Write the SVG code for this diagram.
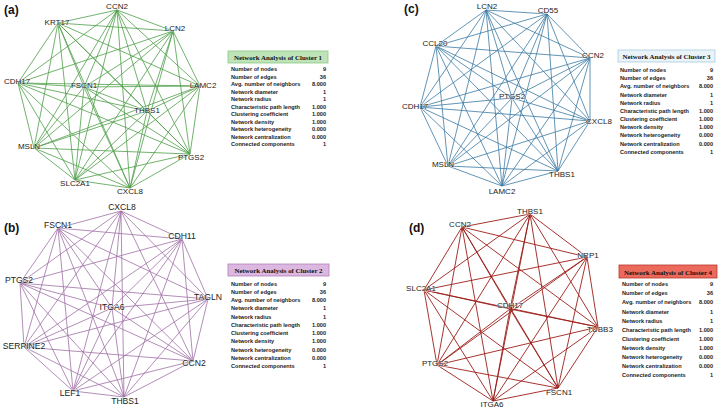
<svg xmlns="http://www.w3.org/2000/svg" width="719" height="409" viewBox="0 0 719 409">
<style>
.bg{fill:#ffffff}
.ea{fill:none;stroke:#4e9e48;stroke-width:0.8}
.eb{fill:none;stroke:#a070a6;stroke-width:0.8}
.ec{fill:none;stroke:#3b7aa3;stroke-width:0.8}
.ed{fill:none;stroke:#9c1d19;stroke-width:0.9}
.nl{font-family:"Liberation Sans",Arial,sans-serif;font-size:8px;fill:#222;text-anchor:middle;stroke:#ffffff;stroke-width:1;stroke-opacity:0.7;paint-order:stroke}
.nlb{font-family:"Liberation Sans",Arial,sans-serif;font-size:8.6px;fill:#222;text-anchor:middle;stroke:#ffffff;stroke-width:1;stroke-opacity:0.7;paint-order:stroke}
.pl{font-family:"Liberation Sans",Arial,sans-serif;font-size:12px;font-weight:bold;fill:#111}
.th{font-family:"Liberation Serif","Times New Roman",serif;font-size:7px;font-weight:bold;fill:#111;text-anchor:middle}
.tr{font-family:"Liberation Sans",Arial,sans-serif;font-size:5.6px;font-weight:bold;fill:#222}
.tv{font-family:"Liberation Sans",Arial,sans-serif;font-size:5.6px;font-weight:bold;fill:#222;text-anchor:end}
.h1{fill:#bfe3b8;stroke:#8cc784;stroke-width:0.8}
.h2{fill:#dcb8e0;stroke:#b07fb8;stroke-width:0.8}
.h3{fill:#eaf3f8;stroke:#a9cbe0;stroke-width:0.8}
.h4{fill:#ec6a5c;stroke:#b8372e;stroke-width:0.8}
</style>
<rect class="bg" x="0" y="0" width="719" height="409"/>

<g id="connectors">
<g id="edges-a">
<path class="ea" d="M117 10L58 23M117 10L173 31M117 10L18 83M117 10L84 87M117 10L200 86M117 10L147 111M117 10L34 148M117 10L190 154M117 10L75 180M117 10L130 188
M58 23L173 31M58 23L18 83M58 23L84 87M58 23L200 86M58 23L147 111M58 23L34 148M58 23L190 154M58 23L75 180M58 23L130 188
M173 31L18 83M173 31L84 87M173 31L200 86M173 31L147 111M173 31L34 148M173 31L190 154M173 31L75 180M173 31L130 188
M18 83L84 87M18 83L200 86M18 83L147 111M18 83L34 148M18 83L190 154M18 83L75 180M18 83L130 188
M84 87L200 86M84 87L147 111M84 87L34 148M84 87L190 154M84 87L75 180M84 87L130 188
M200 86L147 111M200 86L34 148M200 86L190 154M200 86L75 180M200 86L130 188
M147 111L34 148M147 111L190 154M147 111L75 180M147 111L130 188
M34 148L190 154M34 148L75 180M34 148L130 188
M190 154L75 180M190 154L130 188
M75 180L130 188"/>
</g>
<g id="edges-b">
<path class="eb" d="M121 211L58 228M121 211L182 239M121 211L20 283M121 211L208 299M121 211L112 308M121 211L24 347M121 211L193 361M121 211L73 391M121 211L124 397
M58 228L182 239M58 228L20 283M58 228L208 299M58 228L112 308M58 228L24 347M58 228L193 361M58 228L73 391M58 228L124 397
M182 239L20 283M182 239L208 299M182 239L112 308M182 239L24 347M182 239L193 361M182 239L73 391M182 239L124 397
M20 283L208 299M20 283L112 308M20 283L24 347M20 283L193 361M20 283L73 391M20 283L124 397
M208 299L112 308M208 299L24 347M208 299L193 361M208 299L73 391M208 299L124 397
M112 308L24 347M112 308L193 361M112 308L73 391M112 308L124 397
M24 347L193 361M24 347L73 391M24 347L124 397
M193 361L73 391M193 361L124 397
M73 391L124 397"/>
</g>
<g id="edges-c">
<path class="ec" d="M486 10L547 14M486 10L436 46M486 10L590 58M486 10L512 98M486 10L420 107M486 10L590 121M486 10L448 166M486 10L558 171M486 10L502 186
M547 14L436 46M547 14L590 58M547 14L512 98M547 14L420 107M547 14L590 121M547 14L448 166M547 14L558 171M547 14L502 186
M436 46L590 58M436 46L512 98M436 46L420 107M436 46L590 121M436 46L448 166M436 46L558 171M436 46L502 186
M590 58L512 98M590 58L420 107M590 58L590 121M590 58L448 166M590 58L558 171M590 58L502 186
M512 98L420 107M512 98L590 121M512 98L448 166M512 98L558 171M512 98L502 186
M420 107L590 121M420 107L448 166M420 107L558 171M420 107L502 186
M590 121L448 166M590 121L558 171M590 121L502 186
M448 166L558 171M448 166L502 186
M558 171L502 186"/>
</g>
<g id="edges-d">
<path class="ed" d="M530 214L462 227M530 214L587 257M530 214L424 290M530 214L510 309M530 214L598 327M530 214L437 365M530 214L558 388M530 214L493 401
M462 227L587 257M462 227L424 290M462 227L510 309M462 227L598 327M462 227L437 365M462 227L558 388M462 227L493 401
M587 257L424 290M587 257L510 309M587 257L598 327M587 257L437 365M587 257L558 388M587 257L493 401
M424 290L510 309M424 290L598 327M424 290L437 365M424 290L558 388M424 290L493 401
M510 309L598 327M510 309L437 365M510 309L558 388M510 309L493 401
M598 327L437 365M598 327L558 388M598 327L493 401
M437 365L558 388M437 365L493 401
M558 388L493 401"/>
</g>
</g>

<g id="panel-labels">
<text class="pl" x="4" y="14">(a)</text>
<text class="pl" x="4" y="232">(b)</text>
<text class="pl" x="404" y="13">(c)</text>
<text class="pl" x="409" y="232">(d)</text>
</g>

<g id="nodes-a">
<g id="a-CCN2"><text class="nl" x="117" y="9">CCN2</text></g>
<g id="a-KRT17"><text class="nl" x="57" y="25">KRT17</text></g>
<g id="a-LCN2"><text class="nl" x="175" y="31">LCN2</text></g>
<g id="a-CDH17"><text class="nl" x="17" y="84">CDH17</text></g>
<g id="a-FSCN1"><text class="nl" x="84" y="88">FSCN1</text></g>
<g id="a-LAMC2"><text class="nl" x="203" y="88">LAMC2</text></g>
<g id="a-THBS1"><text class="nl" x="147" y="113">THBS1</text></g>
<g id="a-MSLN"><text class="nl" x="29" y="149">MSLN</text></g>
<g id="a-PTGS2"><text class="nl" x="191" y="160">PTGS2</text></g>
<g id="a-SLC2A1"><text class="nl" x="75" y="186">SLC2A1</text></g>
<g id="a-CXCL8"><text class="nl" x="130" y="194">CXCL8</text></g>
</g>

<g id="nodes-b">
<g id="b-CXCL8"><text class="nlb" x="122" y="210">CXCL8</text></g>
<g id="b-FSCN1"><text class="nlb" x="58" y="228">FSCN1</text></g>
<g id="b-CDH11"><text class="nlb" x="182" y="239">CDH11</text></g>
<g id="b-PTGS2"><text class="nlb" x="19" y="283">PTGS2</text></g>
<g id="b-TAGLN"><text class="nlb" x="208" y="300">TAGLN</text></g>
<g id="b-ITGA6"><text class="nlb" x="112" y="310">ITGA6</text></g>
<g id="b-SERPINE2"><text class="nlb" x="24" y="349">SERPINE2</text></g>
<g id="b-CCN2"><text class="nlb" x="194" y="366">CCN2</text></g>
<g id="b-LEF1"><text class="nlb" x="70" y="396">LEF1</text></g>
<g id="b-THBS1"><text class="nlb" x="125" y="404">THBS1</text></g>
</g>

<g id="nodes-c">
<g id="c-LCN2"><text class="nl" x="487" y="9">LCN2</text></g>
<g id="c-CD55"><text class="nl" x="548" y="13">CD55</text></g>
<g id="c-CCL20"><text class="nl" x="435" y="46">CCL20</text></g>
<g id="c-CCN2"><text class="nl" x="593" y="58">CCN2</text></g>
<g id="c-PTGS2"><text class="nl" x="512" y="99">PTGS2</text></g>
<g id="c-CDH17"><text class="nl" x="415" y="109">CDH17</text></g>
<g id="c-CXCL8"><text class="nl" x="599" y="124">CXCL8</text></g>
<g id="c-MSLN"><text class="nl" x="443" y="167">MSLN</text></g>
<g id="c-THBS1"><text class="nl" x="562" y="177">THBS1</text></g>
<g id="c-LAMC2"><text class="nl" x="502" y="194">LAMC2</text></g>
</g>

<g id="nodes-d">
<g id="d-THBS1"><text class="nl" x="530" y="214">THBS1</text></g>
<g id="d-CCN2"><text class="nl" x="460" y="227">CCN2</text></g>
<g id="d-NRP1"><text class="nl" x="588" y="258">NRP1</text></g>
<g id="d-SLC2A1"><text class="nl" x="421" y="291">SLC2A1</text></g>
<g id="d-CDH17"><text class="nl" x="510" y="308">CDH17</text></g>
<g id="d-TUBB3"><text class="nl" x="600" y="332">TUBB3</text></g>
<g id="d-PTGS2"><text class="nl" x="435" y="366">PTGS2</text></g>
<g id="d-FSCN1"><text class="nl" x="559" y="395">FSCN1</text></g>
<g id="d-ITGA6"><text class="nl" x="492" y="407">ITGA6</text></g>
</g>

<g id="table-1">
<rect class="h1" x="228" y="51" width="100" height="12"/>
<text class="th" x="278" y="60" textLength="88" lengthAdjust="spacingAndGlyphs">Network Analysis of Cluster 1</text>
<text class="tr" x="231" y="71.3">Number of nodes</text><text class="tv" x="326" y="71.3">9</text>
<text class="tr" x="231" y="78.8">Number of edges</text><text class="tv" x="326" y="78.8">36</text>
<text class="tr" x="231" y="86.2">Avg. number of neighbors</text><text class="tv" x="326" y="86.2">8.000</text>
<text class="tr" x="231" y="93.7">Network diameter</text><text class="tv" x="326" y="93.7">1</text>
<text class="tr" x="231" y="101.2">Network radius</text><text class="tv" x="326" y="101.2">1</text>
<text class="tr" x="231" y="108.7">Characteristic path length</text><text class="tv" x="326" y="108.7">1.000</text>
<text class="tr" x="231" y="116.1">Clustering coefficient</text><text class="tv" x="326" y="116.1">1.000</text>
<text class="tr" x="231" y="123.6">Network density</text><text class="tv" x="326" y="123.6">1.000</text>
<text class="tr" x="231" y="131.1">Network heterogeneity</text><text class="tv" x="326" y="131.1">0.000</text>
<text class="tr" x="231" y="138.5">Network centralization</text><text class="tv" x="326" y="138.5">0.000</text>
<text class="tr" x="231" y="146">Connected components</text><text class="tv" x="326" y="146">1</text>
</g>

<g id="table-2">
<rect class="h2" x="228" y="264" width="101" height="12"/>
<text class="th" x="278.5" y="273" textLength="88" lengthAdjust="spacingAndGlyphs">Network Analysis of Cluster 2</text>
<text class="tr" x="231" y="285.7">Number of nodes</text><text class="tv" x="326" y="285.7">9</text>
<text class="tr" x="231" y="293.9">Number of edges</text><text class="tv" x="326" y="293.9">36</text>
<text class="tr" x="231" y="302.2">Avg. number of neighbors</text><text class="tv" x="326" y="302.2">8.000</text>
<text class="tr" x="231" y="310.4">Network diameter</text><text class="tv" x="326" y="310.4">1</text>
<text class="tr" x="231" y="318.6">Network radius</text><text class="tv" x="326" y="318.6">1</text>
<text class="tr" x="231" y="326.9">Characteristic path length</text><text class="tv" x="326" y="326.9">1.000</text>
<text class="tr" x="231" y="335.1">Clustering coefficient</text><text class="tv" x="326" y="335.1">1.000</text>
<text class="tr" x="231" y="343.3">Network density</text><text class="tv" x="326" y="343.3">1.000</text>
<text class="tr" x="231" y="351.5">Network heterogeneity</text><text class="tv" x="326" y="351.5">0.000</text>
<text class="tr" x="231" y="359.8">Network centralization</text><text class="tv" x="326" y="359.8">0.000</text>
<text class="tr" x="231" y="368">Connected components</text><text class="tv" x="326" y="368">1</text>
</g>

<g id="table-3">
<rect class="h3" x="618" y="50" width="97" height="12"/>
<text class="th" x="666.5" y="59" textLength="88" lengthAdjust="spacingAndGlyphs">Network Analysis of Cluster 3</text>
<text class="tr" x="620" y="72">Number of nodes</text><text class="tv" x="713" y="72">9</text>
<text class="tr" x="620" y="80.2">Number of edges</text><text class="tv" x="713" y="80.2">36</text>
<text class="tr" x="620" y="88.3">Avg. number of neighbors</text><text class="tv" x="713" y="88.3">8.000</text>
<text class="tr" x="620" y="96.5">Network diameter</text><text class="tv" x="713" y="96.5">1</text>
<text class="tr" x="620" y="104.7">Network radius</text><text class="tv" x="713" y="104.7">1</text>
<text class="tr" x="620" y="112.9">Characteristic path length</text><text class="tv" x="713" y="112.9">1.000</text>
<text class="tr" x="620" y="121">Clustering coefficient</text><text class="tv" x="713" y="121">1.000</text>
<text class="tr" x="620" y="129.2">Network density</text><text class="tv" x="713" y="129.2">1.000</text>
<text class="tr" x="620" y="137.4">Network heterogeneity</text><text class="tv" x="713" y="137.4">0.000</text>
<text class="tr" x="620" y="145.5">Network centralization</text><text class="tv" x="713" y="145.5">0.000</text>
<text class="tr" x="620" y="153.7">Connected components</text><text class="tv" x="713" y="153.7">1</text>
</g>

<g id="table-4">
<rect class="h4" x="619" y="265" width="98" height="13"/>
<text class="th" x="668" y="274.5" textLength="88" lengthAdjust="spacingAndGlyphs">Network Analysis of Cluster 4</text>
<text class="tr" x="622" y="286.3">Number of nodes</text><text class="tv" x="713" y="286.3">9</text>
<text class="tr" x="622" y="295.4">Number of edges</text><text class="tv" x="713" y="295.4">36</text>
<text class="tr" x="622" y="304.4">Avg. number of neighbors</text><text class="tv" x="713" y="304.4">8.000</text>
<text class="tr" x="622" y="313.5">Network diameter</text><text class="tv" x="713" y="313.5">1</text>
<text class="tr" x="622" y="322.6">Network radius</text><text class="tv" x="713" y="322.6">1</text>
<text class="tr" x="622" y="331.7">Characteristic path length</text><text class="tv" x="713" y="331.7">1.000</text>
<text class="tr" x="622" y="340.7">Clustering coefficient</text><text class="tv" x="713" y="340.7">1.000</text>
<text class="tr" x="622" y="349.8">Network density</text><text class="tv" x="713" y="349.8">1.000</text>
<text class="tr" x="622" y="358.9">Network heterogeneity</text><text class="tv" x="713" y="358.9">0.000</text>
<text class="tr" x="622" y="367.9">Network centralization</text><text class="tv" x="713" y="367.9">0.000</text>
<text class="tr" x="622" y="377">Connected components</text><text class="tv" x="713" y="377">1</text>
</g>
</svg>
